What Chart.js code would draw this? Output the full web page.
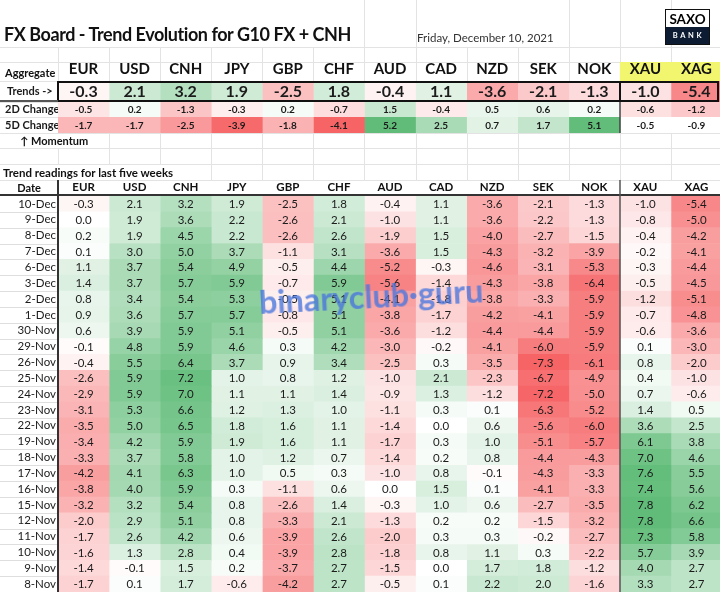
<!DOCTYPE html>
<html>
<head>
<meta charset="utf-8">
<script src="https://cdn.jsdelivr.net/npm/chart.js@4.4.0/dist/chart.umd.min.js"></script>
<style>
  html, body { margin: 0; padding: 0; background: #fff; }
  body { width: 720px; height: 592px; position: relative; overflow: hidden; font-family: Lato, "Open Sans", sans-serif; color: #111; }
  #bg { position: absolute; left: 0; top: 0; }
  .box { position: absolute; left: 0; width: 722px; }
  .txt { position: absolute; white-space: nowrap; }
  #title { left: 4px; top: 22px; font-size: 18px; font-weight: bold; line-height: 25px; letter-spacing: -0.45px; }
  #day { left: 417px; top: 31px; font-size: 11.5px; line-height: 14px; color: #333; }
  #logo { position: absolute; left: 665px; top: 9px; width: 43px; height: 34px; border: 1px solid #111; background: #fff; text-align: center; }
  #logo .saxo { height: 17px; line-height: 18px; font-size: 13.5px; font-weight: bold; color: #000; }
  #logo .bank { height: 17px; line-height: 17px; font-size: 7.5px; font-weight: bold; color: #fff; background: #0d1b33; letter-spacing: 2.6px; padding-left: 2px; }
  .lbl { font-size: 11px; font-weight: bold; line-height: 14px; }
  #mark { left: 260px; top: 281px; font-size: 33px; line-height: 40px; font-weight: bold; color: rgba(72, 116, 220, 0.78); transform: rotate(-3deg) scaleX(0.98); transform-origin: left bottom; pointer-events: none; }
</style>
</head>
<body>
<canvas id="bg" width="720" height="592"></canvas>

<div class="txt" id="title">FX Board - Trend Evolution for G10 FX + CNH</div>
<div class="txt" id="day">Friday, December 10, 2021</div>
<div id="logo"><div class="saxo">SAXO</div><div class="bank">BANK</div></div>

<div class="txt lbl" style="left:5px; top:66px;">Aggregate</div>
<div class="txt lbl" style="left:20px; top:134px;">&#8593; Momentum</div>
<div class="txt lbl" style="left:3px; top:166px; font-size:11.5px;">Trend readings for last five weeks</div>
<div class="txt lbl" style="left:10px; top:181px; width:38px; text-align:center;">Date</div>

<div class="box" style="top:62px; height:40px;"><canvas id="trendChart"></canvas></div>
<div class="box" style="top:102px; height:15px;"><canvas id="twoDayChart"></canvas></div>
<div class="box" style="top:117px; height:16px;"><canvas id="fiveDayChart"></canvas></div>
<div class="box" style="top:180px; height:412px;"><canvas id="readingsChart"></canvas></div>

<div class="txt" id="mark">binaryclub·guru</div>

<script>
// columns and aggregate rows
const currencies = ['EUR', 'USD', 'CNH', 'JPY', 'GBP', 'CHF', 'AUD', 'CAD', 'NZD', 'SEK', 'NOK', 'XAU', 'XAG'];
const trends   = [-0.3, 2.1, 3.2, 1.9, -2.5, 1.8, -0.4, 1.1, -3.6, -2.1, -1.3, -1.0, -5.4];
const change2d = [-0.5, 0.2, -1.3, -0.3, 0.2, -0.7, 1.5, -0.4, 0.5, 0.6, 0.2, -0.6, -1.2];
const change5d = [-1.7, -1.7, -2.5, -3.9, -1.8, -4.1, 5.2, 2.5, 0.7, 1.7, 5.1, -0.5, -0.9];
const metals = ['XAU', 'XAG'];

// trend readings, one array per column, newest date first
const dates = ['10-Dec', '9-Dec', '8-Dec', '7-Dec', '6-Dec', '3-Dec', '2-Dec', '1-Dec', '30-Nov', '29-Nov', '26-Nov',
  '25-Nov', '24-Nov', '23-Nov', '22-Nov', '19-Nov', '18-Nov', '17-Nov', '16-Nov', '15-Nov', '12-Nov', '11-Nov', '10-Nov', '9-Nov', '8-Nov'];
const eur = [-0.3, 0.0, 0.2, 0.1, 1.1, 1.4, 0.8, 0.9, 0.6, -0.1, -0.4, -2.6, -2.9, -3.1, -3.5, -3.4, -3.3, -4.2, -3.8, -3.2, -2.0, -1.7, -1.6, -1.4, -1.7];
const usd = [2.1, 1.9, 1.9, 3.0, 3.7, 3.7, 3.4, 3.6, 3.9, 4.8, 5.5, 5.9, 5.9, 5.3, 5.0, 4.2, 3.7, 4.1, 4.0, 3.2, 2.9, 2.6, 1.3, -0.1, 0.1];
const cnh = [3.2, 3.6, 4.5, 5.0, 5.4, 5.7, 5.4, 5.7, 5.9, 5.9, 6.4, 7.2, 7.0, 6.6, 6.5, 5.9, 5.8, 6.3, 5.9, 5.4, 5.1, 4.2, 2.8, 1.5, 1.7];
const jpy = [1.9, 2.2, 2.2, 3.7, 4.9, 5.9, 5.3, 5.7, 5.1, 4.6, 3.7, 1.0, 1.1, 1.2, 1.8, 1.9, 1.0, 1.0, 0.3, 0.8, 0.8, 0.6, 0.4, 0.2, -0.6];
const gbp = [-2.5, -2.6, -2.6, -1.1, -0.5, -0.7, -0.5, -0.8, -0.5, 0.3, 0.9, 0.8, 1.1, 1.3, 1.6, 1.6, 1.2, 0.5, -1.1, -2.6, -3.3, -3.9, -3.9, -3.7, -4.2];
const chf = [1.8, 2.1, 2.6, 3.1, 4.4, 5.9, 5.1, 5.1, 5.1, 4.2, 3.4, 1.2, 1.4, 1.0, 1.1, 1.1, 0.7, 0.3, 0.6, 1.4, 2.1, 2.6, 2.8, 2.7, 2.7];
const aud = [-0.4, -1.0, -1.9, -3.6, -5.2, -5.6, -4.1, -3.8, -3.6, -3.0, -2.5, -1.0, -0.9, -1.1, -1.4, -1.7, -1.4, -1.0, 0.0, -0.3, -1.3, -2.0, -1.8, -1.5, -0.5];
const cad = [1.1, 1.1, 1.5, 1.5, -0.3, -1.4, -1.8, -1.7, -1.2, -0.2, 0.3, 2.1, 1.3, 0.3, 0.0, 0.3, 0.2, 0.8, 1.5, 1.0, 0.2, 0.3, 0.8, 0.0, 0.1];
const nzd = [-3.6, -3.6, -4.0, -4.3, -4.6, -4.3, -3.8, -4.2, -4.4, -4.1, -3.5, -2.3, -1.2, 0.1, 0.6, 1.0, 0.8, -0.1, 0.1, 0.6, 0.2, 0.3, 1.1, 1.7, 2.2];
const sek = [-2.1, -2.2, -2.7, -3.2, -3.1, -3.8, -3.3, -4.1, -4.4, -6.0, -7.3, -6.7, -7.2, -6.3, -5.6, -5.1, -4.4, -4.3, -4.1, -2.7, -1.5, -0.2, 0.3, 1.8, 2.0];
const nok = [-1.3, -1.3, -1.5, -3.9, -5.3, -6.4, -5.9, -5.9, -5.9, -5.9, -6.1, -4.9, -5.0, -5.2, -6.0, -5.7, -4.3, -3.3, -3.3, -3.5, -3.2, -2.7, -2.2, -1.2, -1.6];
const xau = [-1.0, -0.8, -0.4, -0.2, -0.3, -0.5, -1.2, -0.7, -0.6, 0.1, 0.8, 0.4, 0.7, 1.4, 3.6, 6.1, 7.0, 7.6, 7.4, 7.8, 7.8, 7.3, 5.7, 4.0, 3.3];
const xag = [-5.4, -5.0, -4.2, -4.1, -4.4, -4.5, -5.1, -4.8, -3.6, -3.0, -2.0, -1.0, -0.6, 0.5, 2.5, 3.8, 4.6, 5.5, 5.6, 6.2, 6.6, 5.8, 3.9, 2.7, 2.7];
const readings = [eur, usd, cnh, jpy, gbp, chf, aud, cad, nzd, sek, nok, xau, xag];

Chart.defaults.font.family = 'Lato, "Open Sans", sans-serif';

// excel-like red / white / green scale, white at zero
function heat(v, lo, hi) {
  const end = v < 0 ? [246, 100, 102] : [96, 188, 120];
  const t = Math.pow(v < 0 ? Math.min(1, v / lo) : Math.min(1, v / hi), 0.85);
  const c = end.map(e => Math.round(255 + (e - 255) * t));
  return 'rgb(' + c.join(',') + ')';
}
const all = readings.flat();
const tableLo = Math.min(...all), tableHi = Math.max(...all);
const chgAll = change2d.concat(change5d);
const chgLo = Math.min(...chgAll), chgHi = Math.max(...chgAll);

// sheet gridlines behind everything
(function () {
  const g = document.getElementById('bg').getContext('2d');
  g.strokeStyle = '#e3e3e3';
  g.lineWidth = 1;
  const colW = (722 - 58) / 13;
  const xs = [];
  for (let k = 0; k <= 13; k++) xs.push(Math.round(58 + k * colW) + 0.5);
  [47, 62, 81, 102, 117, 133, 148, 164, 180].forEach(y => {
    g.beginPath(); g.moveTo(0, y + 0.5); g.lineTo(720, y + 0.5); g.stroke();
  });
  const bands = [[0, 47, x => x > 360 && !(x > 420 && x < 560)], [47, 133, () => true],
    [133, 148, x => x > 100], [148, 164, () => true], [164, 180, x => x > 170]];
  bands.forEach(([y0, y1, show]) => xs.forEach(x => {
    if (!show(x)) return;
    g.beginPath(); g.moveTo(x, y0); g.lineTo(x, y1); g.stroke();
  }));
})();

const cellText = font => ({
  id: 'cellText',
  afterDatasetsDraw(chart) {
    const ctx = chart.ctx;
    ctx.save();
    ctx.font = font;
    ctx.fillStyle = '#1b1b1b';
    ctx.textAlign = 'center';
    ctx.textBaseline = 'middle';
    chart.data.datasets.forEach((ds, i) => {
      chart.getDatasetMeta(i).data.forEach((bar, j) => {
        const p = bar.getCenterPoint();
        ctx.fillText(ds.values[j].toFixed(1), p.x, p.y + 0.5);
      });
    });
    ctx.restore();
  }
});

function heatTable(id, rowLabels, cols, colour, o) {
  const scales = {
    x: { type: 'linear', stacked: true, min: 0, max: 13, display: false },
    y: {
      stacked: true,
      grid: { display: false, drawTicks: false },
      border: { display: false },
      afterFit: s => { s.width = o.yWidth; s.paddingTop = 0; s.paddingBottom = 0; },
      ticks: { crossAlign: o.align, padding: o.yPad, color: '#1b1b1b', font: o.rowFont, autoSkip: false }
    }
  };
  if (o.head) {
    scales.xHead = {
      type: 'category', axis: 'x', position: 'top', labels: currencies, offset: true,
      grid: { display: false, drawTicks: false },
      border: { display: false },
      afterFit: s => { s.height = o.head.height; s.paddingLeft = 0; s.paddingRight = 0; },
      ticks: { padding: o.head.pad, color: '#111', font: o.head.font, maxRotation: 0, autoSkip: false }
    };
  }
  return new Chart(document.getElementById(id), {
    type: 'bar',
    data: {
      labels: rowLabels,
      datasets: cols.map((vals, i) => ({
        label: currencies[i],
        data: vals.map(() => 1),
        values: vals,
        backgroundColor: c => colour(vals[c.dataIndex], i),
        borderWidth: 0,
        barPercentage: 1,
        categoryPercentage: 1
      }))
    },
    options: {
      indexAxis: 'y',
      responsive: true,
      maintainAspectRatio: false,
      animation: false,
      events: [],
      layout: { padding: { left: o.padLeft || 0, right: 0, top: 0, bottom: 0 } },
      plugins: { legend: { display: false }, tooltip: { enabled: false } },
      scales: scales
    },
    plugins: [cellText(o.cellFont)].concat(o.extra || [])
  });
}

// aggregate block
const trendFrame = {
  id: 'trendFrame',
  beforeDraw(chart) {
    const { ctx, scales: { x, xHead } } = chart;
    ctx.save();
    ctx.fillStyle = '#f2f56e';
    ctx.fillRect(x.getPixelForValue(11), xHead.top, x.getPixelForValue(13) - x.getPixelForValue(11), xHead.bottom - xHead.top);
    ctx.restore();
  },
  afterDraw(chart) {
    const { ctx, chartArea: a, scales: { x } } = chart;
    ctx.save();
    ctx.strokeStyle = '#111';
    ctx.lineWidth = 2;
    ctx.strokeRect(a.left, a.top + 1, a.right - 4 - a.left, a.bottom - a.top - 2);
    const sx = Math.round(x.getPixelForValue(11));
    ctx.beginPath(); ctx.moveTo(sx, a.top); ctx.lineTo(sx, a.bottom); ctx.stroke();
    ctx.strokeStyle = '#555';
    ctx.beginPath(); ctx.moveTo(0, a.bottom - 1); ctx.lineTo(a.left, a.bottom - 1); ctx.stroke();
    ctx.restore();
  }
};
const metalSplit = {
  id: 'metalSplit',
  afterDraw(chart) {
    const { ctx, scales: { x } } = chart;
    const sx = Math.round(x.getPixelForValue(11));
    ctx.save();
    ctx.strokeStyle = '#444';
    ctx.lineWidth = 1.5;
    ctx.beginPath(); ctx.moveTo(sx, 0); ctx.lineTo(sx, chart.height); ctx.stroke();
    ctx.restore();
  }
};

const rowFont = { size: 11, weight: 'bold' };
heatTable('trendChart', ['Trends ->'], trends.map(v => [v]), v => heat(v, tableLo, tableHi), {
  yWidth: 51, padLeft: 7, align: 'far', yPad: 0, rowFont: rowFont,
  cellFont: 'bold 16px Lato',
  head: { height: 19, pad: 3, font: { size: 15, weight: 'bold' } },
  extra: [trendFrame]
});
heatTable('twoDayChart', ['2D Change'], change2d.map(v => [v]), v => heat(v, chgLo, chgHi), {
  yWidth: 53, padLeft: 5, align: 'far', yPad: 0, rowFont: rowFont,
  cellFont: 'bold 10px Lato', extra: [metalSplit]
});
heatTable('fiveDayChart', ['5D Change'], change5d.map(v => [v]),
  (v, i) => metals.includes(currencies[i]) ? '#ffffff' : heat(v, chgLo, chgHi), {
  yWidth: 53, padLeft: 5, align: 'far', yPad: 0, rowFont: rowFont,
  cellFont: 'bold 10px Lato', extra: [metalSplit]
});

// readings table
const tableLines = {
  id: 'tableLines',
  afterDraw(chart) {
    const { ctx, chartArea: a, scales: { x, y } } = chart;
    ctx.save();
    ctx.strokeStyle = '#dedede';
    ctx.lineWidth = 1;
    for (let j = 0; j < dates.length - 1; j++) {
      const yy = Math.round((y.getPixelForValue(j) + y.getPixelForValue(j + 1)) / 2) + 0.5;
      ctx.beginPath(); ctx.moveTo(0, yy); ctx.lineTo(a.left, yy); ctx.stroke();
    }
    ctx.strokeStyle = '#333';
    ctx.lineWidth = 2;
    ctx.beginPath(); ctx.moveTo(0, a.top - 1); ctx.lineTo(chart.width, a.top - 1); ctx.stroke();
    ctx.beginPath(); ctx.moveTo(a.left, 0); ctx.lineTo(a.left, a.bottom); ctx.stroke();
    ctx.strokeStyle = '#555';
    ctx.lineWidth = 1.5;
    const sx = Math.round(x.getPixelForValue(11));
    ctx.beginPath(); ctx.moveTo(sx, 0); ctx.lineTo(sx, a.bottom); ctx.stroke();
    ctx.restore();
  }
};
heatTable('readingsChart', dates, readings, v => heat(v, tableLo, tableHi), {
  yWidth: 58, align: 'near', yPad: 2, rowFont: { size: 11.5 },
  cellFont: '11.5px Lato',
  head: { height: 16, pad: 2, font: { size: 11.5, weight: 'bold' } },
  extra: [tableLines]
});
</script>
</body>
</html>
